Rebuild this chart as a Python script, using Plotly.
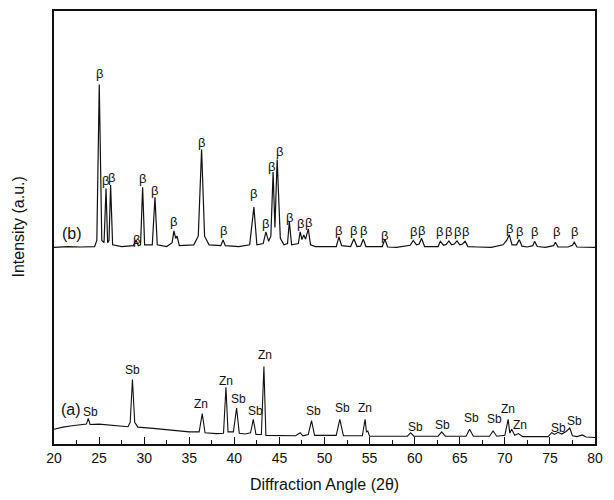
import plotly.graph_objects as go

# ---- pattern (b): vertices (2-theta, intensity a.u.) ----
b_theta = [20.0, 21.5, 23.0, 24.5, 24.75, 25.02, 25.3, 25.55, 25.77, 25.95, 26.1, 26.28, 26.5,
           27.5, 28.8, 29.1, 29.35, 29.6, 29.83, 30.05, 30.9, 31.2, 31.45, 32.5, 33.1, 33.3,
           33.5, 33.65, 33.9, 35.5, 36.0, 36.37, 36.7, 37.2, 38.5, 38.75, 39.0, 40.5, 41.7,
           42.17, 42.5, 43.2, 43.5, 43.8, 44.05, 44.3, 44.5, 44.75, 45.1, 45.5, 45.9, 46.1,
           46.35, 47.1, 47.3, 47.5, 47.7, 47.9, 48.2, 48.45, 49.0, 51.3, 51.6, 51.9, 52.9,
           53.26, 53.6, 54.0, 54.3, 54.6, 56.4, 56.7, 57.0, 58.0, 59.5, 59.84, 60.2, 60.5,
           60.77, 61.1, 62.6, 62.85, 63.2, 63.5, 63.8, 64.1, 64.4, 64.7, 65.0, 65.3, 65.6,
           65.9, 67.0, 68.5, 69.8, 70.2, 70.5, 70.8, 71.3, 71.6, 71.9, 72.5, 73.1, 73.3,
           73.6, 74.5, 75.4, 75.6, 75.9, 77.0, 77.5, 77.7, 78.0, 79.0, 80.0]
b_int = [45.4, 45.6, 45.5, 45.6, 47.0, 83.0, 47.0, 46.5, 59.0, 46.5, 47.0, 59.8, 46.0,
         45.6, 45.8, 47.1, 45.8, 46.0, 59.3, 46.0, 46.0, 57.0, 46.0, 45.6, 46.5, 49.2,
         47.5, 48.0, 45.8, 46.0, 48.0, 68.0, 48.0, 46.0, 45.8, 47.1, 45.8, 45.6, 46.0,
         54.7, 46.0, 46.3, 49.0, 46.8, 48.0, 62.8, 50.0, 65.7, 47.5, 46.0, 46.3, 51.3,
         46.0, 46.3, 49.0, 47.2, 48.3, 47.3, 49.7, 46.0, 45.6, 45.6, 47.8, 45.8, 45.6,
         47.4, 45.6, 45.7, 47.3, 45.6, 45.6, 47.3, 45.5, 45.4, 45.9, 47.0, 46.0, 46.2,
         47.5, 45.6, 45.6, 46.8, 45.9, 46.1, 46.9, 46.0, 46.2, 46.9, 46.0, 46.2, 46.8,
         45.6, 45.5, 45.4, 46.0, 47.0, 48.3, 46.0, 46.0, 47.2, 45.7, 45.5, 45.8, 46.8,
         45.6, 45.4, 45.8, 46.6, 45.5, 45.5, 45.9, 46.6, 45.5, 45.4, 45.4]

# ---- pattern (a) ----
a_theta = [20.0, 21.0, 22.0, 23.0, 23.6, 23.8, 24.0, 25.0, 26.0, 27.0, 28.2, 28.45, 28.7,
           28.95, 29.3, 31.0, 33.0, 35.0, 36.1, 36.44, 36.75, 38.0, 38.8, 39.07, 39.3, 39.9,
           40.25, 40.55, 41.2, 41.8, 42.1, 42.4, 43.0, 43.28, 43.5, 46.8, 47.3, 47.6, 48.2,
           48.56, 48.9, 51.3, 51.7, 52.1, 54.2, 54.5, 54.65, 54.8, 55.0, 59.2, 59.55, 59.9,
           62.6, 63.0, 63.4, 65.7, 66.1, 66.5, 68.3, 68.7, 69.1, 70.0, 70.37, 70.55, 70.75,
           71.1, 71.5, 72.0, 74.8, 75.2, 75.5, 75.9, 76.3, 76.8, 77.2, 77.5, 78.0, 78.6,
           79.0, 80.0]
a_int = [3.4, 3.9, 4.2, 4.4, 4.6, 5.9, 4.5, 4.6, 4.4, 4.2, 4.0, 5.0, 14.9,
         5.0, 3.9, 3.6, 3.2, 2.8, 2.8, 7.0, 2.6, 2.4, 2.5, 13.1, 2.8, 2.8,
         8.3, 2.5, 2.3, 2.6, 5.7, 2.2, 2.2, 17.9, 2.0, 1.9, 2.6, 1.9, 2.2,
         5.4, 2.0, 2.0, 5.7, 1.9, 1.9, 5.7, 2.8, 3.0, 1.8, 1.8, 2.6, 1.8,
         1.8, 2.8, 1.8, 1.8, 3.4, 1.8, 1.8, 3.0, 1.8, 2.0, 5.7, 2.5, 3.4,
         2.0, 2.4, 1.7, 1.7, 2.6, 2.2, 2.7, 2.3, 2.9, 3.7, 1.9, 1.7, 2.1,
         1.6, 1.5]

# ---- peak labels ----
beta_x = [25.0, 25.75, 26.35, 29.1, 29.85, 31.2, 33.3, 36.35, 38.75, 42.15, 43.5, 44.1,
          45.0, 46.1, 47.3, 48.25, 51.6, 53.25, 54.3, 56.7, 59.85, 60.75, 62.8, 63.8,
          64.7, 65.6, 70.55, 71.65, 73.3, 75.7, 77.75]
beta_y = [85.5, 60.9, 61.6, 47.3, 61.4, 58.6, 51.5, 69.7, 49.4, 57.8, 50.9, 64.2,
          67.6, 52.4, 50.9, 51.1, 49.4, 49.4, 49.4, 48.2, 49.0, 49.4, 49.0, 49.0,
          49.0, 49.0, 49.8, 49.0, 49.0, 49.0, 49.0]

phase_text = ["Sb", "Sb", "Zn", "Zn", "Sb", "Sb", "Zn", "Sb", "Sb", "Zn", "Sb", "Sb",
              "Sb", "Sb", "Zn", "Zn", "Sb", "Sb"]
phase_x = [24.1, 28.72, 36.26, 39.03, 40.5, 42.4, 43.4, 48.8, 52.0, 54.48, 60.1, 63.1,
           66.3, 68.8, 70.37, 71.7, 75.9, 77.76]
phase_y = [7.4, 17.2, 9.3, 14.6, 10.5, 7.6, 20.5, 7.7, 8.2, 8.3, 3.9, 4.5,
           6.0, 5.7, 8.0, 4.4, 3.7, 5.4]

series_labels = ["(a)", "(b)"]
series_label_x = [21.9, 21.95]
series_label_y = [8.0, 48.6]

x_ticks = [20, 25, 30, 35, 40, 45, 50, 55, 60, 65, 70, 75, 80]

FONT = "Liberation Sans, Arial, sans-serif"
INK = "#111111"

fig = go.Figure()
fig.add_trace(go.Scatter(x=b_theta, y=b_int, mode="lines",
                         line=dict(color=INK, width=1.2), hoverinfo="skip"))
fig.add_trace(go.Scatter(x=a_theta, y=a_int, mode="lines",
                         line=dict(color=INK, width=1.1), hoverinfo="skip"))

annotations = []
for x, y in zip(beta_x, beta_y):
    annotations.append(dict(x=x, y=y, xref="x", yref="y", text="β", showarrow=False,
                            font=dict(family=FONT, size=13, color=INK)))
for t, x, y in zip(phase_text, phase_x, phase_y):
    annotations.append(dict(x=x, y=y, xref="x", yref="y", text=t, showarrow=False,
                            font=dict(family=FONT, size=12, color=INK)))
for t, x, y in zip(series_labels, series_label_x, series_label_y):
    annotations.append(dict(x=x, y=y, xref="x", yref="y", text=t, showarrow=False,
                            font=dict(family=FONT, size=16, color=INK)))
annotations.append(dict(x=0, y=0.5, xref="paper", yref="paper", xshift=-36,
                        xanchor="center", yanchor="middle",
                        text="Intensity (a.u.)", textangle=-90, showarrow=False,
                        font=dict(family=FONT, size=16, color=INK)))
annotations.append(dict(x=0.5, y=0, xref="paper", yref="paper", yshift=-40,
                        xanchor="center", yanchor="middle",
                        text="Diffraction Angle (2θ)", showarrow=False,
                        font=dict(family=FONT, size=16, color=INK)))

fig.update_layout(
    width=606, height=492,
    margin=dict(l=46, r=19, t=1, b=56),
    paper_bgcolor="white", plot_bgcolor="white",
    showlegend=False,
    annotations=annotations,
    xaxis=dict(range=[20, 80], tickvals=x_ticks, ticktext=[str(v) for v in x_ticks],
               ticks="inside", ticklen=7, tickwidth=1.2, tickcolor=INK,
               minor=dict(dtick=2.5, ticks="inside", ticklen=4, tickcolor=INK),
               showline=True, linecolor=INK, linewidth=2, mirror=True,
               showgrid=False, zeroline=False,
               tickfont=dict(family=FONT, size=14, color=INK)),
    yaxis=dict(range=[0, 100], showticklabels=False, ticks="",
               showline=True, linecolor=INK, linewidth=2, mirror=True,
               showgrid=False, zeroline=False),
)

fig.write_html("out.html")
